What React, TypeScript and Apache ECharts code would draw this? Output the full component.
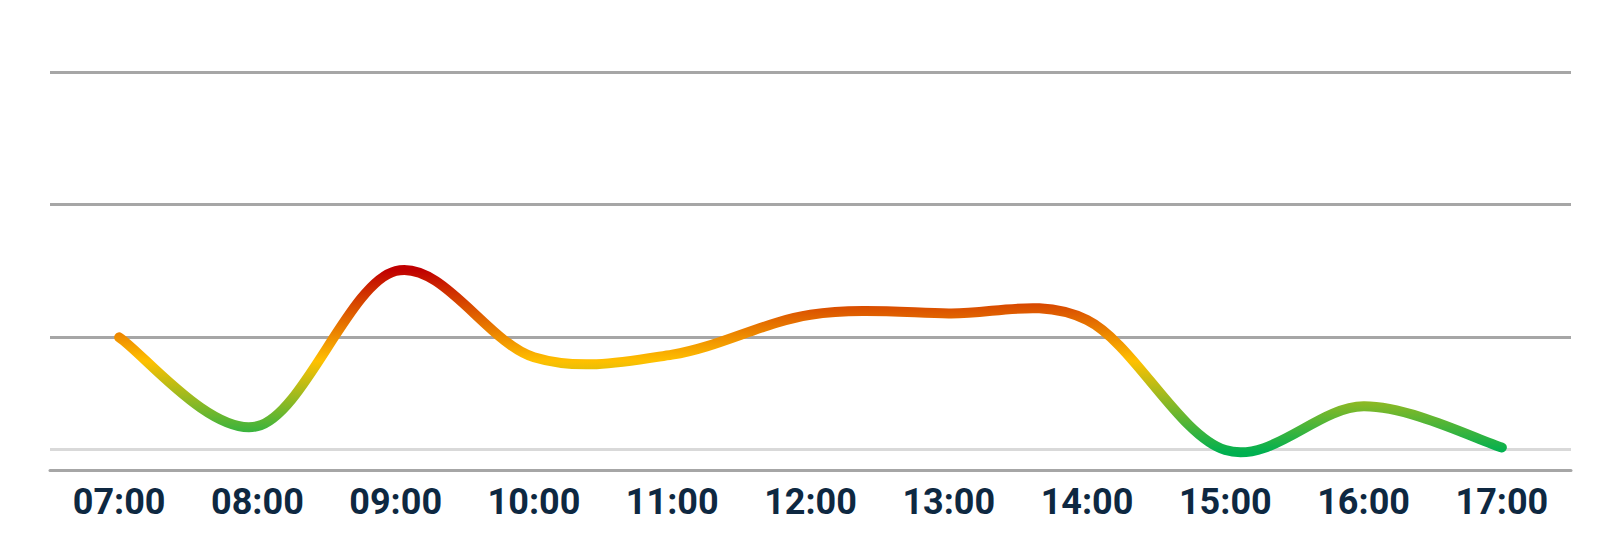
import React, { useEffect, useRef } from "react";
import * as echarts from "echarts";

const hours = ["07:00", "08:00", "09:00", "10:00", "11:00", "12:00", "13:00", "14:00", "15:00", "16:00", "17:00"];
const values = [10, 3.3, 15, 8.5, 8.7, 11.7, 11.8, 11.3, 1.5, 4.8, 1.7];
const targetLine = 1.6;
const yMax = 30;
const yInterval = 10;

export default function App() {
  const ref = useRef<HTMLDivElement>(null);
  useEffect(() => {
    if (!ref.current) return;
    const chart = echarts.init(ref.current, undefined, { renderer: "svg" });

    const renderItem = (params: any, api: any) => {
      if (params.dataIndex !== 0) return null;
      const n = values.length;
      const pts = values.map((v, i) => api.coord([i, v]));
      const p = (k: number) => pts[Math.max(0, Math.min(n - 1, k))];
      let d = `M${pts[0][0]},${pts[0][1]}`;
      for (let i = 0; i < n - 1; i++) {
        const p0 = p(i - 1), p1 = p(i), p2 = p(i + 1), p3 = p(i + 2);
        const c1x = p1[0] + (p2[0] - p0[0]) / 6;
        const c1y = p1[1] + (p2[1] - p0[1]) / 6;
        const c2x = p2[0] - (p3[0] - p1[0]) / 6;
        const c2y = p2[1] - (p3[1] - p1[1]) / 6;
        d += ` C${c1x},${c1y} ${c2x},${c2y} ${p2[0]},${p2[1]}`;
      }
      return {
        type: "path",
        shape: { pathData: d },
        style: {
          fill: "none",
          stroke: new echarts.graphic.LinearGradient(0, 0, 0, 1, [
            { offset: 0, color: "#C00000" },
            { offset: 0.5, color: "#FFC000" },
            { offset: 1, color: "#00B050" },
          ]),
          lineWidth: 10,
          lineCap: "round",
          lineJoin: "round",
        },
      };
    };

    chart.setOption({
      animation: false,
      backgroundColor: "#ffffff",
      grid: { left: 50, right: 51, top: 72, bottom: 83, containLabel: false },
      xAxis: {
        type: "category",
        data: hours,
        boundaryGap: true,
        axisLine: { show: true, lineStyle: { color: "#A6A6A6", width: 3 } },
        axisTick: { show: false },
        axisLabel: {
          color: "#0E2841",
          fontFamily: "Roboto",
          fontWeight: "bold",
          fontSize: 36,
          margin: 14,
        },
        splitLine: { show: false },
      },
      yAxis: {
        type: "value",
        min: 0,
        max: yMax,
        interval: yInterval,
        axisLine: { show: false },
        axisTick: { show: false },
        axisLabel: { show: false },
        splitLine: { show: true, lineStyle: { color: "#A6A6A6", width: 3 } },
      },
      series: [
        {
          type: "custom",
          renderItem,
          data: values.map((v, i) => [i, v]),
          encode: { x: 0, y: 1 },
          clip: false,
          z: 5,
          markLine: {
            silent: true,
            symbol: "none",
            label: { show: false },
            lineStyle: { color: "#D9D9D9", width: 3, type: "solid" },
            data: [{ yAxis: targetLine }],
          },
        },
      ],
    });
    return () => chart.dispose();
  }, []);
  return (
    <div
      ref={ref}
      style={{ position: "absolute", left: 0, top: 0, width: 1622, height: 553 }}
    />
  );
}
